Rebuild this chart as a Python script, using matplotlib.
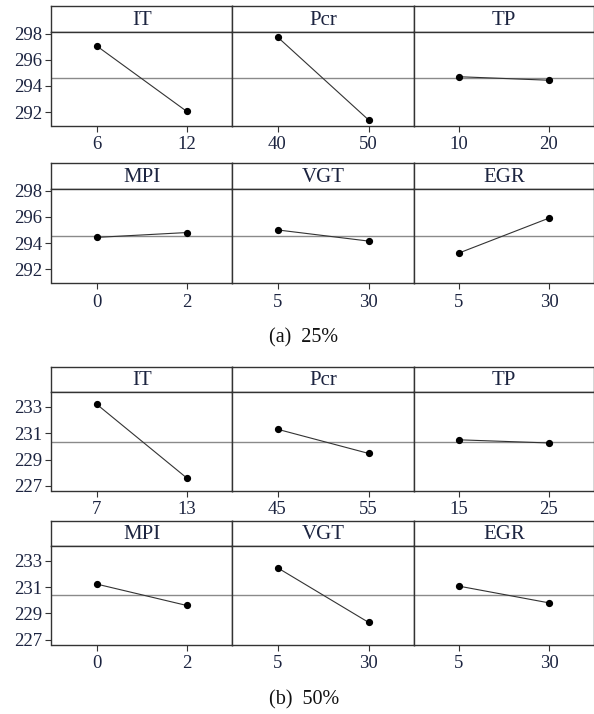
import matplotlib
matplotlib.use("Agg")
import matplotlib.pyplot as plt

plt.rcParams['font.family'] = ['Liberation Serif', 'DejaVu Serif']

factors = ['IT', 'Pcr', 'TP', 'MPI', 'VGT', 'EGR']

a_levels = [['6', '12'], ['40', '50'], ['10', '20'], ['0', '2'], ['5', '30'], ['5', '30']]
a_means = [[297.06, 292.04], [297.74, 291.40], [294.70, 294.43],
           [294.43, 294.80], [295.00, 294.15], [293.24, 295.90]]
a_grand = 294.57
a_yticks = [292, 294, 296, 298]

b_levels = [['7', '13'], ['45', '55'], ['15', '25'], ['0', '2'], ['5', '30'], ['5', '30']]
b_means = [[233.20, 227.60], [231.30, 229.47], [230.50, 230.26],
           [231.23, 229.60], [232.47, 228.32], [231.07, 229.80]]
b_grand = 230.37
b_yticks = [227, 229, 231, 233]

W, H = 594, 714
fig = plt.figure(figsize=(W / 100, H / 100), dpi=100)

col_x = [51.5, 232, 414, 594]
# (top, strip bottom, axes bottom) in pixels
rows_a = [(6, 32, 126), (163.3, 189, 283.3)]
rows_b = [(366.7, 392.3, 491), (521, 546.3, 644.7)]

TXT = '#1c2440'
EDGE = '#333333'


def px_rect(x0, x1, ytop, ybot):
    return [x0 / W, 1 - ybot / H, (x1 - x0) / W, (ybot - ytop) / H]


def draw_group(rows, levels, means, grand, yticks, ylim):
    for r, (top, sb, bot) in enumerate(rows):
        for c in range(3):
            i = r * 3 + c
            x0, x1 = col_x[c], col_x[c + 1]
            # strip
            sax = fig.add_axes(px_rect(x0, x1, top, sb))
            sax.set_xticks([]); sax.set_yticks([])
            for s in sax.spines.values():
                s.set_color(EDGE); s.set_linewidth(1.0)
            sax.text(0.5, 0.45, factors[i], ha='center', va='center',
                     fontsize=15, color=TXT, transform=sax.transAxes)
            # data axes
            ax = fig.add_axes(px_rect(x0, x1, sb, bot))
            ax.axhline(grand, color='#8a8a8a', lw=1.0, zorder=1)
            ax.plot([0, 1], means[i], color='#333333', lw=0.8,
                    marker='o', ms=4.2, mfc='black', mec='black', zorder=2)
            ax.set_xlim(-0.5, 1.5)
            ax.set_ylim(*ylim)
            ax.set_xticks([0, 1])
            ax.set_xticklabels(levels[i])
            ax.tick_params(axis='x', direction='out', length=4, width=0.8,
                           colors=EDGE, labelcolor=TXT, labelsize=13.5, pad=3.5)
            if c == 0:
                ax.set_yticks(yticks)
                ax.set_yticklabels([str(t) for t in yticks])
                ax.tick_params(axis='y', direction='out', length=4, width=0.8,
                               colors=EDGE, labelcolor=TXT, labelsize=13.5, pad=3)
            else:
                ax.set_yticks([])
            for s in ax.spines.values():
                s.set_color(EDGE); s.set_linewidth(1.0)


draw_group(rows_a, a_levels, a_means, a_grand, a_yticks, (290.93, 298.12))
draw_group(rows_b, b_levels, b_means, b_grand, b_yticks, (226.62, 234.10))

fig.text(304 / W, 1 - 338 / H, '(a)  25%', ha='center', va='center',
         fontsize=14.5, color='#111111')
fig.text(304 / W, 1 - 700 / H, '(b)  50%', ha='center', va='center',
         fontsize=14.5, color='#111111')

fig.savefig('out.png', dpi=100)
